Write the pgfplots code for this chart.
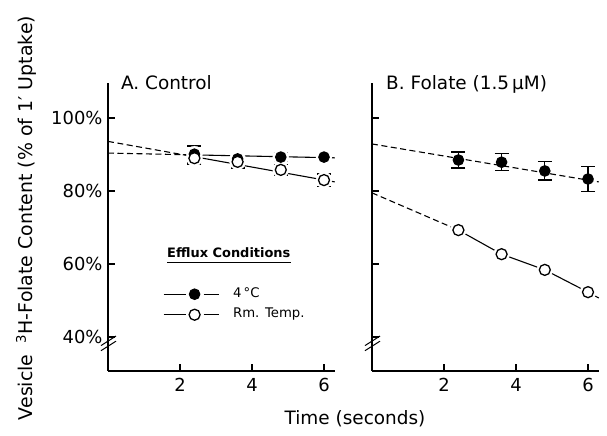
\documentclass[border=0pt]{standalone}
\usepackage{fontspec}
\setmainfont{DejaVu Sans}
\usepackage{pgfplots}
\pgfplotsset{compat=1.18}

\newcommand\bigtxt{\fontsize{18.5}{20}\selectfont}
\newcommand\ticktxt{\fontsize{18}{20}\selectfont}
\newcommand\smalltxt{\fontsize{13.3}{15}\selectfont}

\pgfplotsset{
  panel/.style={
    scale only axis, width=226.8bp, height=288bp,
    xmin=0, xmax=6.3, ymin=30.7, ymax=109.6,
    axis lines=left, axis line style={-, line width=1.4pt},
    xtick={2,4,6}, xticklabels={2,4,6},
    ytick={40,60,80,100},
    tick align=inside, major tick length=7bp,
    tick style={line width=1.3pt, black},
    ticklabel style={font=\ticktxt},
    xticklabel style={yshift=-4bp},
    yticklabel style={xshift=-2bp},
    clip=false,
  },
  dline/.style={black, line width=1.1pt, dash pattern=on 6bp off 3.5bp, forget plot},
  sline/.style={black, line width=1.1pt, solid, forget plot},
  halo/.style={only marks, mark=*, mark size=8bp, mark options={draw=white, fill=white}, forget plot},
  fmark/.style={only marks, mark=*, mark size=5.3bp, mark options={fill=black, draw=black, line width=1pt}},
  omark/.style={only marks, mark=*, mark size=5.5bp, mark options={fill=white, draw=black, line width=1.3pt}},
  ebars/.style={error bars/y dir=both, error bars/y explicit,
    error bars/error bar style={line width=1.3pt, black},
    error bars/error mark options={rotate=90, mark size=7bp, line width=1.3pt, black}},
}

\begin{document}
\begin{tikzpicture}
\useasboundingbox (0,0) rectangle (607bp,436bp);

% panel A
\begin{axis}[panel, at={(108bp,65bp)}, anchor=south west,
  yticklabels={40\%,60\%,80\%,100\%},
  legend style={draw=none, fill=none, inner sep=0pt, at={(0.2425,0.231)}, anchor=west,
    font=\smalltxt, row sep=8bp, column sep=14bp,
    nodes={inner sep=0pt, text height=9.5bp, text depth=3bp}},
  legend cell align=left,
  legend image code/.code={
    \draw[line width=0.8pt, black, solid] (0bp,0bp) -- (22bp,0bp);
    \draw[line width=1pt, black, solid] (40bp,0bp) -- (55bp,0bp);
    \draw[#1] plot coordinates {(31bp,0bp)};
  }]
\addplot[dline] coordinates {(0,90.4) (2.4,89.9)};
\addplot[sline] coordinates {(2.4,89.9) (6.3,89.1)};
\addplot[dline] coordinates {(0,93.6) (2.4,89.4)};
\addplot[sline] coordinates {(2.4,89.4) (6.3,82.5)};
\addplot[halo] coordinates {(2.4,90.1) (3.6,88.8) (4.8,89.3) (6,89.3)};
\addplot[halo] coordinates {(2.4,89.0) (3.6,88.0) (4.8,85.8) (6,83.0)};
\addplot[forget plot, fmark, ebars] coordinates {
  (2.4,90.1) +- (0,2.2)
  (3.6,88.8) +- (0,1.0)
  (4.8,89.3) +- (0,1.2)
  (6,89.3) +- (0,0.4)
};
\addplot[forget plot, omark, ebars] coordinates {
  (2.4,89.0) +- (0,1.6)
  (3.6,88.0) +- (0,1.7)
  (4.8,85.8) +- (0,1.4)
  (6,83.0) +- (0,1.7)
};
\addlegendimage{fmark}
\addlegendentry{4\,°C}
\addlegendimage{omark}
\addlegendentry{Rm. Temp.}
\node[anchor=base west, font=\bigtxt, inner sep=0pt] at (axis cs:0.36,107.9) {A. Control};
\node[anchor=base west, font=\bfseries\fontsize{13}{15}\selectfont, inner sep=0pt] (eff) at (axis cs:1.64,61.9) {Efflux Conditions};
\draw[line width=1pt] ([yshift=-5bp]eff.base west) -- ([yshift=-5bp]eff.base east);
\draw[line width=1pt] ([xshift=-7bp,yshift=-4.5bp]axis cs:0,38.9) -- ([xshift=8bp,yshift=5bp]axis cs:0,38.9);
\draw[line width=1pt] ([xshift=-7bp,yshift=-4.5bp]axis cs:0,37.5) -- ([xshift=8bp,yshift=5bp]axis cs:0,37.5);
\end{axis}

% panel B
\begin{axis}[panel, at={(372bp,65bp)}, anchor=south west, yticklabels={}]
\addplot[dline] coordinates {(0,92.9) (6.3,82.5)};
\addplot[dline] coordinates {(0,79.5) (2.4,69.3)};
\addplot[sline] coordinates {(2.4,69.3) (3.6,62.7) (4.8,58.4) (6,52.3) (6.3,50.7)};
\addplot[halo] coordinates {(2.4,69.3) (3.6,62.7) (4.8,58.4) (6,52.3)};
\addplot[fmark, ebars] coordinates {
  (2.4,88.5) +- (0,2.2)
  (3.6,87.9) +- (0,2.3)
  (4.8,85.5) +- (0,2.5)
  (6,83.3) +- (0,3.4)
};
\addplot[omark] coordinates {(2.4,69.3) (3.6,62.7) (4.8,58.4) (6,52.3)};
\node[anchor=base west, font=\bigtxt, inner sep=0pt] at (axis cs:0.39,107.9) {B. Folate (1.5\,µM)};
\draw[line width=1pt] ([xshift=-7bp,yshift=-4.5bp]axis cs:0,38.9) -- ([xshift=8bp,yshift=5bp]axis cs:0,38.9);
\draw[line width=1pt] ([xshift=-7bp,yshift=-4.5bp]axis cs:0,37.5) -- ([xshift=8bp,yshift=5bp]axis cs:0,37.5);
\end{axis}

\node[anchor=base, font=\bigtxt, inner sep=0pt] at (355bp,12bp) {Time (seconds)};
\node[anchor=base, rotate=90, font=\fontsize{19}{21}\selectfont, inner sep=0pt] at (32bp,218bp)
  {Vesicle\hspace{0.6em}\textsuperscript{3}H-Folate Content (\% of 1′ Uptake)};
\end{tikzpicture}
\end{document}
